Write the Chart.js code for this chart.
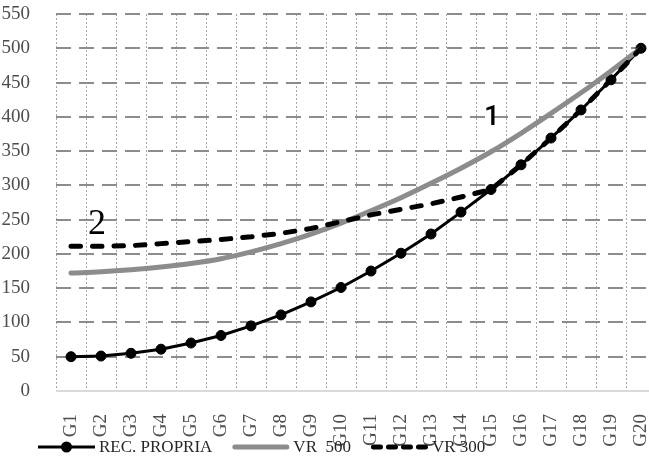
<!DOCTYPE html>
<html>
<head>
<meta charset="utf-8">
<script src="https://cdn.jsdelivr.net/npm/chart.js@4.4.1/dist/chart.umd.min.js"></script>
<style>
  html, body { margin: 0; padding: 0; background: #fff; overflow: hidden; }
  #wrap { width: 649px; height: 457px; overflow: hidden; position: relative; }
  canvas { display: block; }
</style>
</head>
<body>
<div id="wrap"><canvas id="chart" width="670" height="457"></canvas></div>
<script>
// Categories along the horizontal axis
const categories = ['G1','G2','G3','G4','G5','G6','G7','G8','G9','G10',
                    'G11','G12','G13','G14','G15','G16','G17','G18','G19','G20'];

// Series values
const recPropria = [50, 51, 55, 61, 70, 81, 95, 111, 130, 151, 175, 201, 229, 261, 294, 330, 369, 410, 454, 500];
const vr500      = [172, 174, 177, 181, 186, 193, 203, 215, 229, 245, 263, 282, 303, 325, 349, 376, 405, 435, 467, 500];
const vr300      = [211, 211, 212, 215, 218, 221, 225, 230, 237, 247, 257, 265, 273, 283, 294, 330, 369, 410, 454, 500];

// Value axis ticks
const yTicks = [0, 50, 100, 150, 200, 250, 300, 350, 400, 450, 500, 550];

// Curve numbers written next to the lines (category index, value)
const curveNumbers = [
  { text: '1', index: 14.03, value: 399, font: '500 28px Roboto, "Liberation Sans", sans-serif' },
  { text: '2', index: 0.87,  value: 243, font: '36px "Liberation Serif", "Times New Roman", serif' }
];

const SERIF = '"Liberation Serif", "Times New Roman", serif';
const GRID_GREY = '#8c8c8c';
const DOT_GREY = '#a6a6a6';
const LINE_GREY = '#8c8c8c';

// Grid: dotted verticals on category boundaries, dashed horizontals on value ticks
const gridPlugin = {
  id: 'gridLines',
  beforeDatasetsDraw(chart) {
    const { ctx, chartArea: a, scales: { x, y } } = chart;
    ctx.save();
    ctx.globalAlpha = 1;
    ctx.globalCompositeOperation = 'source-over';
    // dotted category boundaries
    ctx.fillStyle = DOT_GREY;
    for (let i = 0; i <= categories.length; i++) {
      const px = Math.round(x.getPixelForValue(i - 0.5));
      for (let yy = a.top; yy < a.bottom; yy += 4) {
        ctx.fillRect(px, yy, 1, Math.min(2, a.bottom - yy));
      }
    }
    // dashed value lines
    ctx.fillStyle = GRID_GREY;
    yTicks.forEach(v => {
      if (v === 0) return;
      const py = Math.round(y.getPixelForValue(v));
      for (let xx = a.left; xx < a.right; xx += 23) {
        ctx.fillRect(xx, py - 1, Math.min(15, a.right - xx), 2);
      }
    });
    // category axis line
    ctx.fillStyle = '#d9d9d9';
    const by = Math.round(y.getPixelForValue(0));
    ctx.fillRect(a.left, by - 1, a.right - a.left, 2);
    ctx.restore();
  }
};

// Bottom key: line sample + label for each series
const seriesKey = {
  id: 'seriesKey',
  afterDraw(chart) {
    const ctx = chart.ctx;
    const y = 447;
    let x = 38;
    const sample = 57;
    ctx.save();
    ctx.font = '17px ' + SERIF;
    ctx.textBaseline = 'middle';
    ctx.textAlign = 'left';
    chart.data.datasets.forEach(ds => {
      ctx.save();
      ctx.strokeStyle = ds.borderColor;
      ctx.lineWidth = ds.borderWidth;
      ctx.lineCap = ds.keyCap || 'butt';
      ctx.setLineDash(ds.keyDash || []);
      const inset = ds.keyCap === 'round' ? ds.borderWidth / 2 : 0;
      ctx.beginPath();
      ctx.moveTo(x + inset, y);
      ctx.lineTo(x + sample - inset, y);
      ctx.stroke();
      if (ds.pointRadius > 0) {
        ctx.setLineDash([]);
        ctx.fillStyle = ds.pointBackgroundColor;
        ctx.beginPath();
        ctx.arc(x + sample / 2, y, ds.pointRadius + 0.5, 0, Math.PI * 2);
        ctx.fill();
      }
      ctx.restore();
      x += sample + 4;
      ctx.fillStyle = '#262626';
      ctx.fillText(ds.label, x, y + 1);
      x += ctx.measureText(ds.label).width + 20;
    });
    ctx.restore();
  }
};

// Curve numbers placed through the scales
const curveNumberPlugin = {
  id: 'curveNumbers',
  afterDatasetsDraw(chart) {
    const ctx = chart.ctx;
    const xs = chart.scales.x, ys = chart.scales.y;
    ctx.save();
    ctx.fillStyle = '#000';
    ctx.textAlign = 'center';
    ctx.textBaseline = 'middle';
    curveNumbers.forEach(n => {
      ctx.font = n.font;
      ctx.fillText(n.text, xs.getPixelForValue(n.index), ys.getPixelForValue(n.value));
    });
    ctx.restore();
  }
};

new Chart(document.getElementById('chart'), {
  type: 'line',
  data: {
    labels: categories,
    datasets: [
      {
        label: 'REC. PROPRIA',
        data: recPropria,
        borderColor: '#000',
        borderWidth: 3,
        pointRadius: 5,
        pointBorderWidth: 1,
        pointBackgroundColor: '#000',
        pointBorderColor: '#000',
        tension: 0,
        order: 3
      },
      {
        label: 'VR  500',
        data: vr500,
        borderColor: LINE_GREY,
        borderWidth: 5,
        borderCapStyle: 'round',
        keyCap: 'round',
        pointRadius: 0,
        cubicInterpolationMode: 'monotone',
        order: 2
      },
      {
        label: 'VR 300',
        data: vr300,
        borderColor: '#000',
        borderWidth: 5,
        borderCapStyle: 'round',
        borderDash: [9.5, 12],
        keyCap: 'round',
        keyDash: [7, 8],
        pointRadius: 0,
        tension: 0,
        order: 1
      }
    ]
  },
  options: {
    responsive: false,
    animation: false,
    devicePixelRatio: 1,
    layout: { padding: { top: 14, right: 14, left: 0, bottom: 0 } },
    plugins: { legend: { display: false }, tooltip: { enabled: false } },
    scales: {
      x: {
        type: 'category',
        offset: true,
        grid: { display: false },
        border: { display: false },
        ticks: {
          autoSkip: false, minRotation: 90, maxRotation: 90, padding: 15,
          color: '#4d4d4d', font: { family: SERIF, size: 19 }
        },
        afterFit(scale) {
          scale.height = 66;
          scale.paddingLeft = 0;
          scale.paddingRight = 0;
        }
      },
      y: {
        min: 0, max: 550,
        afterBuildTicks(scale) { scale.ticks = yTicks.map(v => ({ value: v })); },
        grid: { display: false },
        border: { display: false },
        ticks: { padding: 18, color: '#4d4d4d', font: { family: SERIF, size: 19 } },
        afterFit(scale) {
          scale.width = 56;
          scale.paddingTop = 0;
          scale.paddingBottom = 0;
        }
      }
    }
  },
  plugins: [gridPlugin, curveNumberPlugin, seriesKey]
});
</script>
</body>
</html>
